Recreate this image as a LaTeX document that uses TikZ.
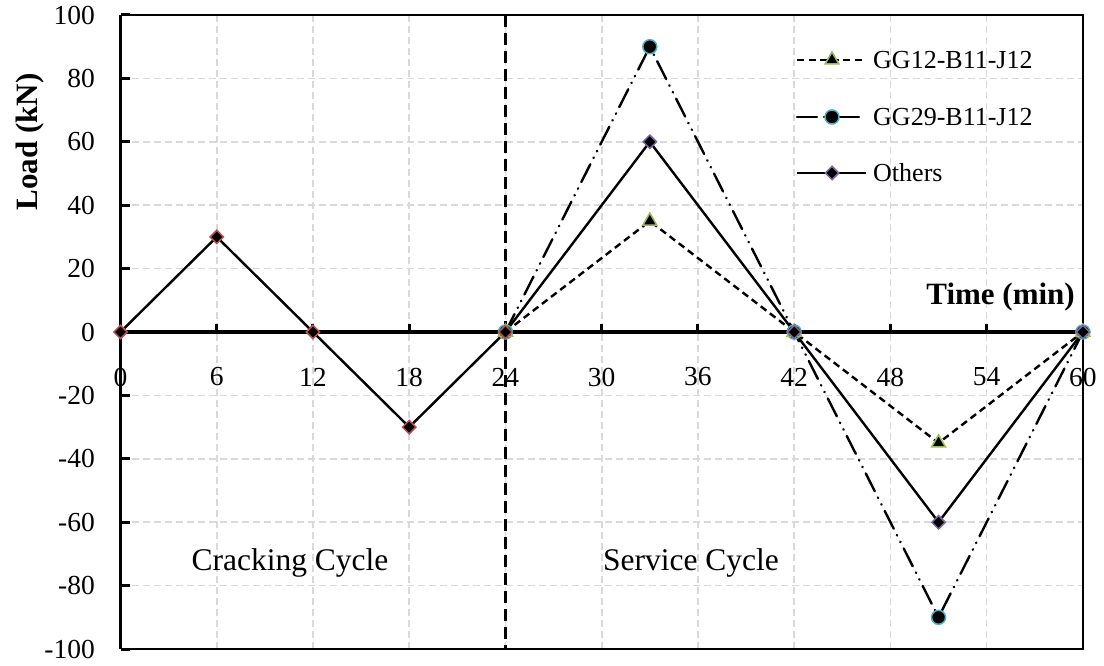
\documentclass[tikz,border=0pt]{standalone}
\usepackage{fontspec}
\setmainfont{Liberation Serif}
\usetikzlibrary{shapes.geometric}
\definecolor{mred}{HTML}{C0504D}
\definecolor{mpurple}{HTML}{8064A2}
\definecolor{mgreen}{HTML}{9BBB59}
\definecolor{mcyan}{HTML}{4BACC6}
\definecolor{gridgray}{HTML}{D9D9D9}
\begin{document}
\begin{tikzpicture}[x=1pt,y=-1pt,
  gridline/.style={draw=gridgray, line width=1.6pt, dash pattern=on 7pt off 4pt},
  frameline/.style={draw=black, line width=2pt},
  axisline/.style={draw=black, line width=3.8pt},
  tickline/.style={draw=black, line width=3pt},
  sepline/.style={draw=black, line width=3.2pt, dash pattern=on 12pt off 6pt},
  serSolid/.style={draw=black, line width=2.4pt, line join=round},
  serDash/.style={draw=black, line width=2.4pt, dash pattern=on 7pt off 4.5pt},
  serDDot/.style={draw=black, line width=2.4pt, line cap=round, dash pattern=on 20pt off 7pt on 0.5pt off 7pt on 0.5pt off 7pt},
  mkDia/.style={diamond, draw=#1, fill=black, line width=1.5pt, inner sep=0pt, minimum size=14pt},
  mkTri/.style={regular polygon, regular polygon sides=3, draw=mgreen, fill=black, line width=1.5pt, inner sep=0pt, minimum size=16pt},
  mkCirc/.style={circle, draw=mcyan, fill=black, line width=1.5pt, inner sep=0pt, minimum size=14pt},
  ticklab/.style={font=\fontsize{27.5}{30}\selectfont, inner sep=0pt},
  leglab/.style={font=\fontsize{26}{28}\selectfont, inner sep=0pt, anchor=west},
  annot/.style={font=\fontsize{31.5}{34}\selectfont, inner sep=0pt, anchor=base},
  axtitle/.style={font=\fontsize{31}{34}\selectfont\bfseries, inner sep=0pt}
]
\useasboundingbox (0,0) rectangle (1104,666);
\begin{scope}[shift={(120.5,332)}, x=16.04pt, y=3.17pt]
  % grid
  \foreach \t in {6,12,...,54} \draw[gridline] (\t,-100) -- (\t,100);
  \foreach \v in {-80,-60,...,80} \draw[gridline] (0,\v) -- (60,\v);
  % frame and axes
  \draw[frameline] (0,100) -- (60,100) -- (60,-100) -- (0,-100);
  \draw[axisline] (0,100) -- (0,-100);
  \draw[axisline] (0,0) -- (60,0);
  \foreach \v in {-100,-80,...,100} \draw[tickline] (0,\v) -- ++(9pt,0);
  \foreach \t in {6,12,...,54} \draw[tickline] (\t,0) -- ++(0,8pt);
  % separator
  \draw[sepline] (24,100) -- (24,-100);
  % tick labels
  \foreach \v [count=\i] in {-100,-80,...,100}
    \node[ticklab, anchor=east] (yl\i) at ([xshift=-25.5pt]0,\v) {\v};
  \foreach \t [count=\i] in {0,6,...,60}
    \node[ticklab] (xl\i) at ([yshift=-45pt]\t,0) {\t};
  % data points
  \coordinate (o0) at (0,0);   \coordinate (o1) at (6,30);
  \coordinate (o2) at (12,0);  \coordinate (o3) at (18,-30);
  \coordinate (o4) at (24,0);
  \coordinate (s0) at (24,0);  \coordinate (s1) at (33,60);
  \coordinate (s2) at (42,0);  \coordinate (s3) at (51,-60);
  \coordinate (s4) at (60,0);
  \coordinate (g0) at (24,0);  \coordinate (g1) at (33,35);
  \coordinate (g2) at (42,0);  \coordinate (g3) at (51,-35);
  \coordinate (g4) at (60,0);
  \coordinate (h0) at (24,0);  \coordinate (h1) at (33,90);
  \coordinate (h2) at (42,0);  \coordinate (h3) at (51,-90);
  \coordinate (h4) at (60,0);
  % series lines
  \draw[serDash] (g0) -- (g1) -- (g2) -- (g3) -- (g4);
  \draw[serDDot] (h0) -- (h1) -- (h2) -- (h3) -- (h4);
  \draw[serSolid] (s0) -- (s1) -- (s2) -- (s3) -- (s4);
  \draw[serSolid] (o0) -- (o1) -- (o2) -- (o3) -- (o4);
  % markers
  \foreach \p in {0,...,4} \node[mkCirc] (mh\p) at (h\p) {};
  \foreach \p in {0,...,4} \node[mkTri] (mg\p) at (g\p) {};
  \foreach \p in {1,...,4} \node[mkDia=mpurple] (ms\p) at (s\p) {};
  \foreach \p in {0,...,4} \node[mkDia=mred] (mo\p) at (o\p) {};
\end{scope}
% legend
\coordinate (la0) at (797,60);  \coordinate (la1) at (866,60);
\coordinate (lb0) at (797,117); \coordinate (lb1) at (866,117);
\coordinate (lc0) at (797,173); \coordinate (lc1) at (866,173);
\draw[serDash] (la0) -- (la1);
\draw[serDDot] (lb0) -- (lb1);
\draw[serSolid] (lc0) -- (lc1);
\node[mkTri] (lma) at (832,60) {};
\node[mkCirc] (lmb) at (832,117) {};
\node[mkDia=mpurple] (lmc) at (832,173) {};
\node[leglab] (lta) at (873,60) {GG12-B11-J12};
\node[leglab] (ltb) at (873,117) {GG29-B11-J12};
\node[leglab] (ltc) at (873,173) {Others};
% titles and annotations
\node[axtitle, anchor=base east] (xtitle) at (1075,304) {Time (min)};
\node[axtitle, anchor=base, rotate=90] (ytitle) at (37,142) {Load (kN)};
\node[annot] (crack) at (290,570) {Cracking Cycle};
\node[annot] (serv) at (691,570) {Service Cycle};
\end{tikzpicture}
\end{document}
